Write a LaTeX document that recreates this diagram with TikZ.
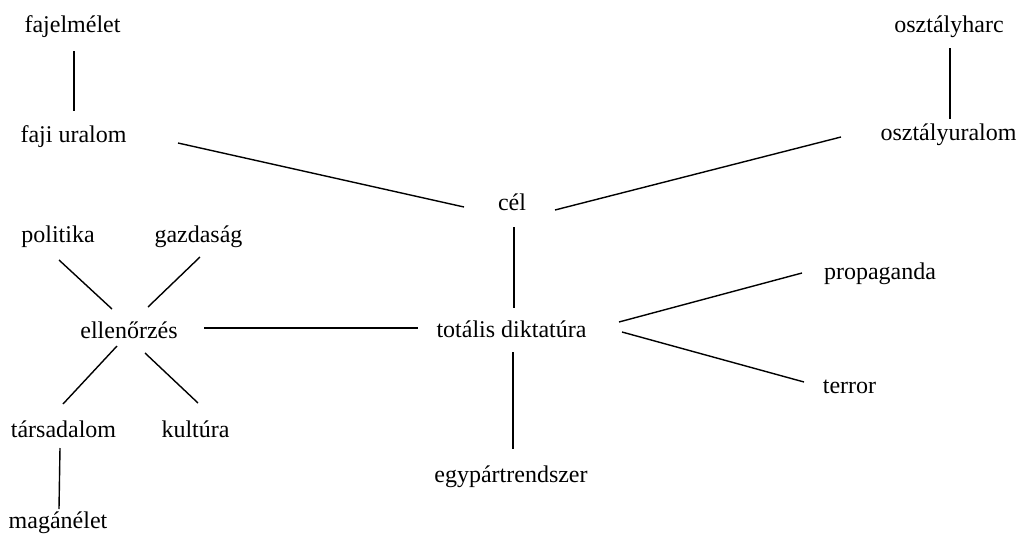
\documentclass[tikz,border=0pt]{standalone}
\usepackage{fontspec}
\setmainfont{Liberation Serif}
\newfontfamily\labelfont{Liberation Serif}
\usepackage{tikz}

\tikzset{
  lbl/.style={anchor=base, inner sep=0pt, font=\labelfont\fontsize{24}{28}\selectfont},
  conn/.style={line width=1.4pt}
}

\begin{document}
\begin{tikzpicture}[x=1pt, y=1pt]
  \useasboundingbox (0,0) rectangle (1021,-544);

  \node[lbl] (fajel) at (72.5,-32) {fajelmélet};
  \node[lbl] (faji) at (73.5,-142) {faji uralom};
  \node[lbl] (oharc) at (949,-32) {osztályharc};
  \node[lbl] (ouralom) at (948.5,-140) {osztályuralom};

  \node[lbl] (cel) at (512,-210) {cél};

  \node[lbl] (politika) at (58,-242) {politika};
  \node[lbl] (gazdasag) at (198.5,-242) {gazdaság};
  \node[lbl] (ell) at (129,-338) {ellenőrzés};
  \node[lbl] (totalis) at (511.5,-337) {totális diktatúra};
  \node[lbl] (propaganda) at (880,-279) {propaganda};
  \node[lbl] (terror) at (849.5,-393) {terror};

  \node[lbl] (tars) at (63.5,-437) {társadalom};
  \node[lbl] (kultura) at (195.5,-437) {kultúra};
  \node[lbl] (egypart) at (511,-482) {egypártrendszer};
  \node[lbl] (magan) at (58,-528) {magánélet};

  \draw[conn] ([shift={(1.5,-19)}]fajel.base) -- ([shift={(0.5,31)}]faji.base);
  \draw[conn] ([shift={(1,-16)}]oharc.base) -- ([shift={(1.5,21)}]ouralom.base);
  \draw[conn] ([shift={(104.5,-1)}]faji.base) -- ([shift={(-48,3)}]cel.base);
  \draw[conn] ([shift={(-107.5,3)}]ouralom.base) -- ([shift={(43,0)}]cel.base);
  \draw[conn] ([shift={(2,-17)}]cel.base) -- ([shift={(2.5,29)}]totalis.base);

  \draw[conn] ([shift={(1,-18)}]politika.base) -- ([shift={(-17,29)}]ell.base);
  \draw[conn] ([shift={(1.5,-15)}]gazdasag.base) -- ([shift={(19,31)}]ell.base);
  \draw[conn] ([shift={(75,10)}]ell.base) -- ([shift={(-93.5,9)}]totalis.base);
  \draw[conn] ([shift={(-12,-8)}]ell.base) -- ([shift={(-0.5,33)}]tars.base);
  \draw[conn] ([shift={(16,-15)}]ell.base) -- ([shift={(2.5,34)}]kultura.base);
  \draw[conn] ([shift={(-3.5,-11)}]tars.base) -- ([shift={(1,19)}]magan.base);

  \draw[conn] ([shift={(107.5,15)}]totalis.base) -- ([shift={(-78,6)}]propaganda.base);
  \draw[conn] ([shift={(110.5,5)}]totalis.base) -- ([shift={(-45.5,11)}]terror.base);
  \draw[conn] ([shift={(1.5,-15)}]totalis.base) -- ([shift={(2,33)}]egypart.base);
\end{tikzpicture}
\end{document}
